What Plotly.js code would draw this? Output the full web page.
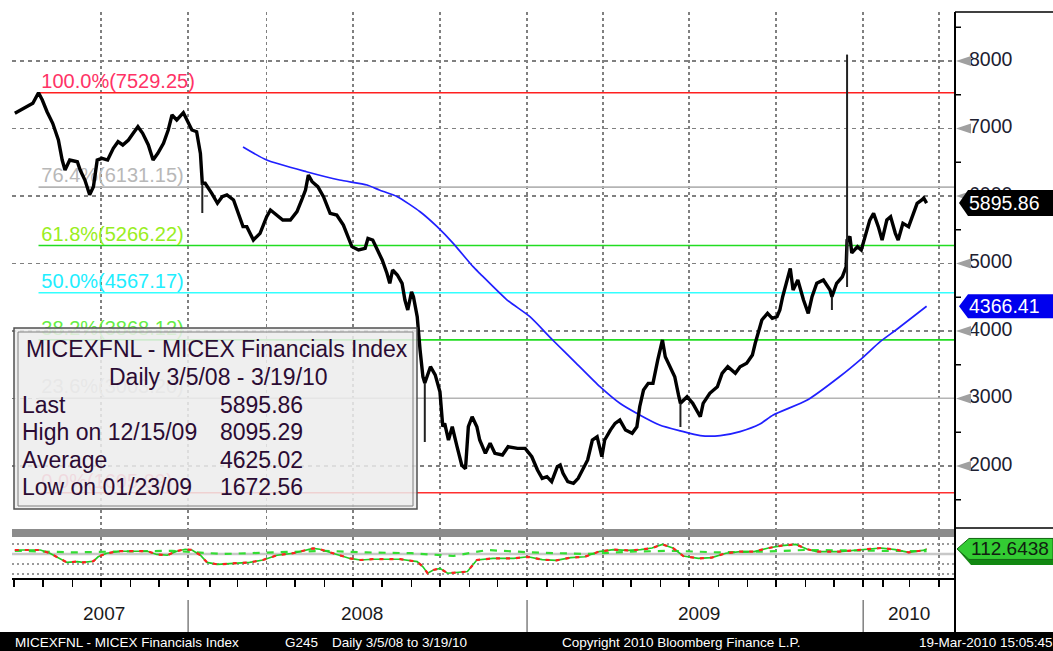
<!DOCTYPE html>
<html><head><meta charset="utf-8">
<script src="https://cdn.plot.ly/plotly-3.0.1.min.js"></script>
<style>html,body{margin:0;padding:0;background:#fff}#chart{width:1053px;height:651px}</style>
</head><body><div id="chart"></div>
<script>
// ---------------- DATA ----------------
const priceDates = ['2007-07-02','2007-07-07','2007-07-15','2007-07-21','2007-07-27','2007-07-31','2007-08-05','2007-08-11','2007-08-17','2007-08-21','2007-08-24','2007-08-29','2007-09-06','2007-09-09','2007-09-14','2007-09-19','2007-09-23','2007-09-27','2007-10-02','2007-10-08','2007-10-14','2007-10-19','2007-10-24','2007-10-30','2007-11-04','2007-11-09','2007-11-14','2007-11-20','2007-11-25','2007-11-30','2007-12-06','2007-12-11','2007-12-15','2007-12-20','2007-12-27','2007-12-31',
'2008-01-13','2008-01-18','2008-01-22','2008-01-24','2008-01-27','2008-02-03','2008-02-09','2008-02-14','2008-02-19','2008-02-26','2008-03-02','2008-03-04','2008-03-07','2008-03-11','2008-03-18','2008-03-25','2008-04-01','2008-04-05','2008-04-12','2008-04-18','2008-04-26','2008-05-03','2008-05-08','2008-05-12','2008-05-15','2008-05-19','2008-05-25','2008-05-31','2008-06-07','2008-06-14','2008-06-21','2008-06-26','2008-06-30','2008-07-07','2008-07-14','2008-07-17','2008-07-22','2008-07-27','2008-08-01','2008-08-06','2008-08-09','2008-08-12','2008-08-17','2008-08-22','2008-08-25','2008-08-28','2008-09-01','2008-09-03','2008-09-07','2008-09-10','2008-09-13','2008-09-15','2008-09-21','2008-09-26','2008-10-01','2008-10-04','2008-10-06','2008-10-10','2008-10-12','2008-10-14','2008-10-19','2008-10-24','2008-10-28','2008-10-31','2008-11-04','2008-11-09','2008-11-12','2008-11-18','2008-11-23','2008-11-28','2008-12-06','2008-12-12','2008-12-22','2008-12-30',
'2009-01-16','2009-01-22','2009-01-27','2009-02-01','2009-02-06','2009-02-12','2009-02-15','2009-02-18','2009-02-23','2009-03-01','2009-03-06','2009-03-11','2009-03-16','2009-03-21','2009-03-26','2009-03-31','2009-04-03','2009-04-09','2009-04-14','2009-04-19','2009-04-25','2009-05-02','2009-05-07','2009-05-10','2009-05-14','2009-05-19','2009-05-24','2009-05-29','2009-06-03','2009-06-06','2009-06-11','2009-06-16','2009-06-20','2009-06-22','2009-06-29','2009-07-05','2009-07-13','2009-07-16','2009-07-23','2009-07-31','2009-08-05','2009-08-11','2009-08-19','2009-08-24','2009-08-31','2009-09-06','2009-09-09','2009-09-12','2009-09-16','2009-09-22','2009-09-27','2009-10-02','2009-10-05','2009-10-08','2009-10-13','2009-10-16','2009-10-19','2009-10-24','2009-10-30','2009-11-04','2009-11-08','2009-11-13','2009-11-20','2009-11-27','2009-11-29','2009-12-04','2009-12-10','2009-12-14','2009-12-15','2009-12-18','2009-12-20','2009-12-26','2009-12-30',
'2010-01-13','2010-01-18','2010-01-22','2010-01-27','2010-01-31','2010-02-05','2010-02-09','2010-02-14','2010-02-17','2010-02-22','2010-02-28','2010-03-04','2010-03-09','2010-03-14','2010-03-16','2010-03-19'];
const priceVals = [7225,7264,7323,7373,7529,7422,7249,7077,6830,6533,6385,6533,6508,6385,6237,6020,6138,6533,6558,6533,6707,6805,6756,6830,6929,7027,6929,6756,6533,6632,6780,6978,7200,7126,7234,7126,
6978,6953,6632,6188,6188,6040,5893,5990,6015,5941,5743,5644,5546,5546,5348,5447,5693,5793,5719,5644,5644,5768,5941,6089,6311,6212,6138,5990,5743,5719,5570,5398,5250,5200,5225,5373,5348,5200,5052,4855,4707,4904,4830,4707,4459,4311,4582,4508,4212,3719,3323,3230,3471,3350,3100,2582,2632,2385,2484,2582,2290,2015,1960,2582,2730,2582,2385,2188,2336,2188,2163,2286,2262,2262,
2138,1941,1817,1842,1768,1990,2015,1891,1768,1743,1817,1941,2089,2385,2434,2138,2385,2533,2632,2681,2533,2484,2582,2879,3126,3225,3225,3570,3867,3619,3471,3323,3050,2929,3027,2929,2730,2929,3077,3175,3373,3471,3373,3471,3522,3644,3818,3966,4163,4262,4188,4212,4311,4508,4804,4928,4607,4756,4459,4262,4508,4707,4756,4607,4508,4707,4804,4952,5348,5400,5156,5250,5200,
5400,5644,5743,5546,5348,5644,5693,5447,5348,5595,5546,5693,5891,5941,5970,5895.86];

// long single-bar ranges (high/low wicks), null separates bars
const wickDates = ['2008-01-24','2008-01-24',null,'2008-09-15','2008-09-15',null,'2009-06-22','2009-06-22',null,'2009-11-29','2009-11-29',null,'2009-12-15','2009-12-15'];
const wickVals  = [6188,5748,null,3230,2356,null,2929,2578,null,4508,4311,null,4652,8095.29];

// moving average (blue)
const maDates = ['2008-03-07','2008-04-01','2008-05-13','2008-06-17','2008-07-16','2008-07-29','2008-08-17','2008-09-10','2008-09-28','2008-10-15','2008-11-05','2008-11-12','2008-12-11','2009-01-14','2009-02-07','2009-03-04','2009-03-29','2009-04-19','2009-05-10','2009-05-31','2009-06-22','2009-07-13','2009-08-03','2009-08-24','2009-09-14','2009-09-28','2009-11-03','2009-12-07','2009-12-31','2010-01-29','2010-02-16','2010-03-19'];
const maVals = [6726,6533,6360,6237,6163,6089,5990,5767,5546,5299,4953,4855,4459,4212,3867,3522,3175,2929,2756,2607,2520,2450,2450,2510,2622,2756,2978,3323,3600,3842,4030,4366.41];

// Fibonacci retracement levels
const fibPct = ['100.0%','76.4%','61.8%','50.0%','38.2%','23.6%','0.0%'];
const fibLevels = [7529.25,6131.15,5266.22,4567.17,3868.12,3003.20,1605.09];
const fibLineColors = ['#ff2020','#b4b4b4','#22dd22','#33ffff','#22dd22','#b4b4b4','#ff3030'];
const fibTextColors = ['#ff3366','#b8b8b8','#99ee22','#22eeff','#66ee44','#c4c4c4','#ff6688'];
const fibStart = '2007-07-27';
const fibLabelAt = '2007-07-30';

// lower indicator panel
const indDates = ['2007-07-02','2007-07-29','2007-08-08','2007-08-19','2007-08-26','2007-09-06','2007-09-12','2007-09-23','2007-09-28','2007-10-07','2007-10-21','2007-11-19','2007-11-29','2007-12-10','2007-12-20','2007-12-29','2008-01-13','2008-01-22','2008-01-29','2008-02-09','2008-02-26','2008-03-14','2008-03-28','2008-04-12','2008-04-29','2008-05-20','2008-05-27','2008-06-10','2008-06-28','2008-07-09','2008-07-22','2008-08-20','2008-09-07','2008-09-13','2008-09-18','2008-09-24','2008-10-01','2008-10-09','2008-10-30','2008-11-09','2008-11-26','2008-12-18','2009-01-12','2009-01-27','2009-02-11','2009-02-26','2009-03-13','2009-03-28','2009-04-12','2009-04-27','2009-05-11','2009-05-23','2009-06-03','2009-06-14','2009-06-25','2009-07-11','2009-07-25','2009-08-09','2009-08-24','2009-09-08','2009-09-23','2009-10-07','2009-10-22','2009-11-03','2009-11-13','2009-12-07','2009-12-21','2010-01-15','2010-01-30','2010-02-14','2010-02-28','2010-03-15','2010-03-19'];
const indVals = [110,110,102,89,79,81,79,82,93,102,107,107,99,97,107,112,110,97,79,74,77,79,85,97,102,114,112,102,89,85,87,87,81,68,52,60,64,52,56,85,89,89,93,86,84,91,93,106,111,109,111,115,124,115,95,89,91,102,106,106,115,121,124,112,106,106,109,112,115,111,104,109,112.6438];
const sigDates = ['2007-07-02','2007-09-01','2007-10-15','2007-12-15','2008-02-15','2008-04-15','2008-06-01','2008-07-15','2008-09-01','2008-10-15','2008-11-20','2009-01-15','2009-03-15','2009-05-01','2009-06-15','2009-08-01','2009-09-15','2009-11-01','2009-12-15','2010-02-01','2010-03-19'];
const sigVals = [108,104,106,108,100,104,108,104,102,95,110,104,100,106,108,104,106,110,108,108,107];

// axes / ticks
const yTicks = [2000,3000,4000,5000,6000,7000,8000];
const yMinor = [1500,2500,3500,4500,5500,6500,7500,8500];
const indGrid = [50,75,125];
const indMid = 100;
const quarterTicks = ['2007-10-01','2008-01-09','2008-04-01','2008-07-01','2008-10-01','2009-01-11','2009-04-01','2009-07-01','2009-10-01','2010-01-11','2010-04-01'];
const yearLabels = ['2007','2008','2009','2010'];
const yearStarts = ['2008-01-09','2009-01-11','2010-01-11'];
const holidayBreaks = [['2008-01-01','2008-01-09'],['2009-01-01','2009-01-11'],['2010-01-01','2010-01-11']];
const xRange = ['2007-06-29','2010-04-18'];

const boxTitle = ['MICEXFNL - MICEX Financials Index','Daily 3/5/08 - 3/19/10'];
const boxLabels = ['Last','High on 12/15/09','Average','Low on 01/23/09'];
const boxValues = ['5895.86','8095.29','4625.02','1672.56'];
const footerTexts = ['MICEXFNL - MICEX Financials Index','G245','Daily 3/5/08 to 3/19/10','Copyright 2010 Bloomberg Finance L.P.','19-Mar-2010 15:05:45'];

// ---------------- LAYOUT GEOMETRY ----------------
const FAM = 'Liberation Sans, Arial, Helvetica, sans-serif';
const W = 1053, H = 651, ML = 12, MT = 12, MB = 73;
const plotW = W - ML, plotH = H - MT - MB;
const xDomEnd = 943 / plotW;
const mainDom = [49 / plotH, 1];
const indDom = [0, 41 / plotH];
const yRange = [1067, 8726];
const indRange = [40, 142.5];
const upp = (yRange[1] - yRange[0]) / ((mainDom[1] - mainDom[0]) * plotH);
const ippx = (indRange[1] - indRange[0]) / ((indDom[1] - indDom[0]) * plotH);
const px = p => (p - ML) / plotW;
const py = p => (H - MB - p) / plotH;

// ---------------- TRACES ----------------
const traces = [];
traces.push({type:'scatter', mode:'text', x: fibLevels.map(() => fibLabelAt), y: fibLevels,
  text: fibPct.map((p, i) => p + '(' + fibLevels[i].toFixed(2) + ')'),
  textposition:'top right', textfont:{family:FAM, size:20, color:fibTextColors},
  hoverinfo:'skip', xaxis:'x', yaxis:'y', cliponaxis:false});
traces.push({type:'scatter', mode:'lines', x: maDates, y: maVals, line:{color:'#2020ff', width:1.7, shape:'spline', smoothing:0.6}, xaxis:'x', yaxis:'y', hoverinfo:'skip'});
traces.push({type:'scatter', mode:'lines', x: priceDates, y: priceVals, line:{color:'#000', width:3.4}, xaxis:'x', yaxis:'y', hoverinfo:'skip'});
traces.push({type:'scatter', mode:'lines', x: wickDates, y: wickVals, line:{color:'#222', width:2}, connectgaps:false, xaxis:'x', yaxis:'y', hoverinfo:'skip'});
traces.push({type:'scatter', mode:'lines', x: sigDates, y: sigVals, line:{color:'#33dd33', width:2.2, dash:'7px,7px'}, xaxis:'x', yaxis:'y2', hoverinfo:'skip'});
traces.push({type:'scatter', mode:'lines', x: indDates, y: indVals, line:{color:'#22cc22', width:1.6}, xaxis:'x', yaxis:'y2', hoverinfo:'skip'});
traces.push({type:'scatter', mode:'lines', x: indDates, y: indVals, line:{color:'#ff2020', width:2.2, dash:'4px,6px'}, xaxis:'x', yaxis:'y2', hoverinfo:'skip'});
// right-hand price scale labels
traces.push({type:'scatter', mode:'text', x: yTicks.map(() => 14), y: yTicks, text: yTicks.map(String),
  textposition:'middle right', textfont:{family:FAM, size:19.5, color:'#202030'}, xaxis:'x2', yaxis:'y3', hoverinfo:'skip', cliponaxis:false});

// ---------------- SHAPES ----------------
const shapes = [];
fibLevels.forEach((v, i) => shapes.push({type:'line', xref:'x', yref:'y', x0: fibStart, x1: xRange[1], y0: v, y1: v, line:{color: fibLineColors[i], width:1.6}, layer:'between'}));
shapes.push({type:'line', xref:'paper', yref:'y2', x0:0, x1:xDomEnd, y0:indMid, y1:indMid, line:{color:'#c8c8c8', width:2.5}, layer:'between'});
shapes.push({type:'rect', xref:'paper', yref:'paper', x0:0, x1:xDomEnd, y0:indDom[1], y1:mainDom[0], fillcolor:'#8c8c8c', line:{width:0}, layer:'above'});
// info box
shapes.push({type:'rect', xref:'paper', yref:'paper', x0:px(14), x1:px(417), y0:py(509), y1:py(328), fillcolor:'rgba(236,236,236,0.86)', line:{color:'#505050', width:1.5}, layer:'above'});
shapes.push({type:'rect', xref:'paper', yref:'paper', x0:px(18), x1:px(413), y0:py(506), y1:py(332), fillcolor:'rgba(0,0,0,0)', line:{color:'#808080', width:1}, layer:'above'});
// right panel frame
shapes.push({type:'line', xref:'paper', yref:'paper', x0:xDomEnd, x1:xDomEnd, y0:py(632), y1:1, line:{color:'#000', width:2}, layer:'above'});
shapes.push({type:'line', xref:'paper', yref:'paper', x0:xDomEnd, x1:1, y0:1, y1:1, line:{color:'#000', width:1.5}, layer:'above'});
shapes.push({type:'line', xref:'paper', yref:'paper', x0:xDomEnd, x1:1, y0:py(528), y1:py(528), line:{color:'#000', width:1.5}, layer:'above'});
// price scale arrows & minor ticks
yTicks.forEach(v => shapes.push({type:'path', xref:'x2', yref:'y3', path:`M 1,${v} L 16,${v + 5 * upp} L 16,${v - 5 * upp} Z`, fillcolor:'#a0a0a0', line:{width:0}, layer:'above'}));
yMinor.forEach(v => shapes.push({type:'line', xref:'x2', yref:'y3', x0:0, x1:6, y0:v, y1:v, line:{color:'#000', width:1.5}, layer:'above'}));
// last-value boxes
function valueBox(v, color, yr, unit, hpx) {
  const h = hpx * unit;
  return {type:'path', xref:'x2', yref:yr, path:`M 4,${v} L 13,${v + h} L 98,${v + h} L 98,${v - h} L 13,${v - h} Z`, fillcolor:color, line:{width:0}, layer:'above'};
}
const lastPrice = priceVals[priceVals.length - 1];
const lastMA = maVals[maVals.length - 1];
const lastInd = indVals[indVals.length - 1];
shapes.push(valueBox(lastPrice, '#000', 'y3', upp, 13));
shapes.push(valueBox(lastMA, '#0000ee', 'y3', upp, 12));
shapes.push({type:'path', xref:'x2', yref:'y2', path:`M 2,${lastInd} L 16,${lastInd - 16 * ippx} L 98,${lastInd - 16 * ippx} L 98,${lastInd - 10.5 * ippx} L 14,${lastInd - 10.5 * ippx} Z`, fillcolor:'#118811', line:{width:0}, layer:'above'});
shapes.push({type:'path', xref:'x2', yref:'y2', path:`M 2,${lastInd} L 14,${lastInd + 10.5 * ippx} L 98,${lastInd + 10.5 * ippx} L 98,${lastInd - 10.5 * ippx} L 14,${lastInd - 10.5 * ippx} Z`, fillcolor:'#33cc33', line:{color:'#116611', width:1}, layer:'above'});
// year separators in date strip
yearStarts.forEach(d => shapes.push({type:'line', xref:'x', yref:'paper', x0:d, x1:d, y0:py(632), y1:py(600), line:{color:'#606060', width:1.2}, layer:'above'}));
// footer bar
shapes.push({type:'rect', xref:'paper', yref:'paper', x0:-ML / plotW, x1:1, y0:py(651), y1:py(632), fillcolor:'#000', line:{width:0}, layer:'above'});

// ---------------- ANNOTATIONS ----------------
const ann = [];
const boxFont = {family:FAM, size:23, color:'#2b0b33'};
ann.push({xref:'paper', yref:'paper', x:px(217), y:py(349), text:boxTitle[0], showarrow:false, xanchor:'center', yanchor:'middle', font:boxFont});
ann.push({xref:'paper', yref:'paper', x:px(218), y:py(377), text:boxTitle[1], showarrow:false, xanchor:'center', yanchor:'middle', font:boxFont});
const rowsY = [405, 432, 460, 487];
boxLabels.forEach((t, i) => {
  ann.push({xref:'paper', yref:'paper', x:px(20), y:py(rowsY[i]), text:t, showarrow:false, xanchor:'left', yanchor:'middle', font:boxFont});
  ann.push({xref:'paper', yref:'paper', x:px(218), y:py(rowsY[i]), text:boxValues[i], showarrow:false, xanchor:'left', yanchor:'middle', font:boxFont});
});
ann.push({xref:'x2', yref:'y3', x:12, y:lastPrice, text:lastPrice.toFixed(2), showarrow:false, xanchor:'left', yanchor:'middle', font:{family:FAM, size:19.5, color:'#fff'}});
ann.push({xref:'x2', yref:'y3', x:12, y:lastMA, text:lastMA.toFixed(2), showarrow:false, xanchor:'left', yanchor:'middle', font:{family:FAM, size:19.5, color:'#fff'}});
ann.push({xref:'x2', yref:'y2', x:14, y:lastInd, text:lastInd.toFixed(4), showarrow:false, xanchor:'left', yanchor:'middle', font:{family:FAM, size:19, color:'#102010'}});
const segBounds = [xRange[0], ...yearStarts, xRange[1]];
yearLabels.forEach((t, i) => {
  const a = new Date(segBounds[i]).getTime(), b = new Date(segBounds[i + 1]).getTime();
  const mid = new Date((a + b) / 2).toISOString().slice(0, 10);
  ann.push({xref:'x', yref:'paper', x:mid, y:py(613), text:t, showarrow:false, xanchor:'center', yanchor:'middle', font:{family:FAM, size:19, color:'#1a1a1a'}});
});
const footerX = [13, 283, 330, 560, 917];
footerTexts.forEach((t, i) => ann.push({xref:'paper', yref:'paper', x:px(footerX[i]), y:py(642), text:t, showarrow:false, xanchor:'left', yanchor:'middle', font:{family:FAM, size:13.5, color:'#fff'}}));

// ---------------- LAYOUT ----------------
const layout = {
  width:W, height:H, margin:{l:ML, r:0, t:MT, b:MB, pad:0},
  paper_bgcolor:'#fff', plot_bgcolor:'#fff', showlegend:false,
  xaxis:{type:'date', domain:[0, xDomEnd], range:xRange, anchor:'y2',
    rangebreaks: holidayBreaks.map(b => ({bounds:b})),
    tickmode:'array', tickvals:quarterTicks, showticklabels:false,
    ticks:'outside', ticklen:7, tickwidth:1.5, tickcolor:'#000',
    showline:true, linecolor:'#000', linewidth:2,
    showgrid:true, gridcolor:'#808080', gridwidth:1.5, griddash:'3px,3px',
    minor:{dtick:'M1', tick0:'2007-07-01', ticks:'outside', ticklen:7, tickwidth:1.5, tickcolor:'#000', showgrid:false},
    zeroline:false, fixedrange:true},
  yaxis:{domain:mainDom, range:yRange, anchor:'x', tickmode:'array', tickvals:yTicks, showticklabels:false, ticks:'',
    showgrid:true, gridcolor:'#808080', gridwidth:1.5, griddash:'4px,4px', zeroline:false, showline:false, fixedrange:true},
  yaxis2:{domain:indDom, range:indRange, anchor:'x', tickmode:'array', tickvals:indGrid, showticklabels:false, ticks:'',
    showgrid:true, gridcolor:'#9a9a9a', gridwidth:1.2, griddash:'2px,3px', zeroline:false, showline:false, fixedrange:true},
  xaxis2:{domain:[xDomEnd, 1], range:[0, 98], anchor:'y3', visible:false, fixedrange:true},
  yaxis3:{domain:mainDom, range:yRange, anchor:'x2', visible:false, fixedrange:true},
  shapes: shapes, annotations: ann
};
Plotly.newPlot('chart', traces, layout, {displayModeBar:false, staticPlot:true});
</script></body></html>
